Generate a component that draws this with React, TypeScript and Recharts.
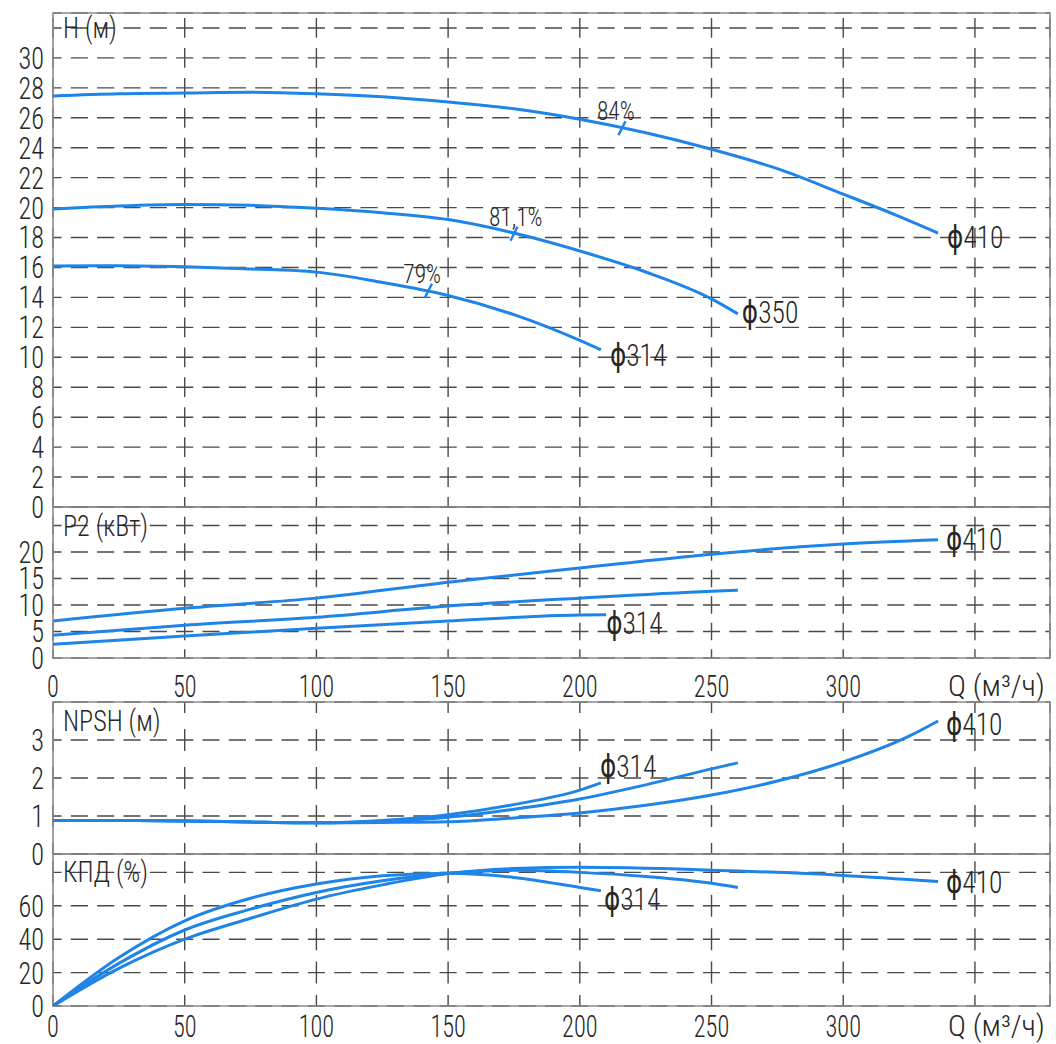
import React from 'react';
import { LineChart, Line, XAxis, YAxis, CartesianGrid, ReferenceArea, ReferenceDot, LabelList } from 'recharts';

// ---------------- data ----------------
const qTicks = [0, 50, 100, 150, 200, 250, 300, 350];
const qAxisTitle = 'Q (м³/ч)';
const Q_MAX = 378.5;

const headTicks = [0, 2, 4, 6, 8, 10, 12, 14, 16, 18, 20, 22, 24, 26, 28, 30, 32];
const powerTicks = [0, 5, 10, 15, 20, 25];
const npshTicks = [0, 1, 2, 3, 4];
const effTicks = [0, 20, 40, 60, 80];

const head410 = [
  { q: 0, v: 27.45 }, { q: 25, v: 27.6 }, { q: 50, v: 27.65 }, { q: 75, v: 27.7 }, { q: 100, v: 27.6 },
  { q: 125, v: 27.4 }, { q: 150, v: 27.05 }, { q: 175, v: 26.6 }, { q: 200, v: 25.9 }, { q: 225, v: 25.0 },
  { q: 250, v: 23.9 }, { q: 275, v: 22.6 }, { q: 300, v: 20.9 }, { q: 320, v: 19.5 }, { q: 336, v: 18.3 },
];
const head350 = [
  { q: 0, v: 19.9 }, { q: 25, v: 20.1 }, { q: 50, v: 20.2 }, { q: 75, v: 20.15 }, { q: 100, v: 19.95 },
  { q: 125, v: 19.65 }, { q: 150, v: 19.2 }, { q: 175, v: 18.3 }, { q: 200, v: 17.1 }, { q: 225, v: 15.7 },
  { q: 250, v: 13.9 }, { q: 260, v: 12.9 },
];
const head314 = [
  { q: 0, v: 16.1 }, { q: 25, v: 16.12 }, { q: 50, v: 16.05 }, { q: 75, v: 15.9 }, { q: 100, v: 15.69 },
  { q: 125, v: 15.0 }, { q: 150, v: 14.13 }, { q: 175, v: 12.85 }, { q: 200, v: 11.13 }, { q: 208, v: 10.5 },
];

const effMarks = [
  { q: 216, v: 25.3, text: '84%' },
  { q: 175, v: 18.25, text: '81,1%' },
  { q: 142.5, v: 14.45, text: '79%' },
];

const power410 = [
  { q: 0, v: 7.0 }, { q: 50, v: 9.4 }, { q: 100, v: 11.3 }, { q: 150, v: 14.3 }, { q: 200, v: 17.0 },
  { q: 250, v: 19.6 }, { q: 300, v: 21.5 }, { q: 336, v: 22.3 },
];
const power350 = [
  { q: 0, v: 4.3 }, { q: 50, v: 6.2 }, { q: 100, v: 7.7 }, { q: 150, v: 9.8 }, { q: 200, v: 11.3 },
  { q: 250, v: 12.6 }, { q: 260, v: 12.8 },
];
const power314 = [
  { q: 0, v: 2.6 }, { q: 50, v: 4.15 }, { q: 100, v: 5.6 }, { q: 150, v: 7.0 }, { q: 200, v: 8.1 },
  { q: 210, v: 8.15 },
];

const npsh410 = [
  { q: 0, v: 0.88 }, { q: 25, v: 0.88 }, { q: 50, v: 0.87 }, { q: 75, v: 0.84 }, { q: 100, v: 0.82 },
  { q: 125, v: 0.83 }, { q: 150, v: 0.85 }, { q: 175, v: 0.95 }, { q: 200, v: 1.08 }, { q: 225, v: 1.28 },
  { q: 250, v: 1.55 }, { q: 275, v: 1.92 }, { q: 300, v: 2.42 }, { q: 325, v: 3.1 }, { q: 336, v: 3.5 },
];
const npsh350 = [
  { q: 0, v: 0.88 }, { q: 25, v: 0.88 }, { q: 50, v: 0.87 }, { q: 75, v: 0.84 }, { q: 100, v: 0.82 },
  { q: 125, v: 0.86 }, { q: 150, v: 0.97 }, { q: 175, v: 1.18 }, { q: 200, v: 1.45 }, { q: 225, v: 1.82 },
  { q: 250, v: 2.24 }, { q: 260, v: 2.4 },
];
const npsh314 = [
  { q: 0, v: 0.88 }, { q: 25, v: 0.88 }, { q: 50, v: 0.87 }, { q: 75, v: 0.84 }, { q: 100, v: 0.82 },
  { q: 125, v: 0.88 }, { q: 150, v: 1.03 }, { q: 175, v: 1.3 }, { q: 200, v: 1.68 }, { q: 208, v: 1.87 },
];

const eff410 = [
  { q: 0, v: 0 }, { q: 25, v: 22.5 }, { q: 50, v: 40 }, { q: 75, v: 52.5 }, { q: 100, v: 64 },
  { q: 125, v: 72.5 }, { q: 150, v: 79.3 }, { q: 175, v: 82.3 }, { q: 200, v: 83 }, { q: 250, v: 81.3 },
  { q: 300, v: 78.2 }, { q: 336, v: 74.6 },
];
const eff350 = [
  { q: 0, v: 0 }, { q: 25, v: 25.5 }, { q: 50, v: 45.5 }, { q: 75, v: 58 }, { q: 100, v: 68 },
  { q: 125, v: 75 }, { q: 150, v: 79.5 }, { q: 175, v: 81.2 }, { q: 200, v: 80 }, { q: 225, v: 77.5 },
  { q: 250, v: 73.5 }, { q: 260, v: 71 },
];
const eff314 = [
  { q: 0, v: 0 }, { q: 25, v: 29 }, { q: 50, v: 51 }, { q: 75, v: 64.5 }, { q: 100, v: 73 },
  { q: 125, v: 78 }, { q: 150, v: 79.5 }, { q: 175, v: 77 }, { q: 200, v: 71 }, { q: 208, v: 69 },
];

// ---------------- styling ----------------
const FONT = '"Roboto Condensed", Roboto, "DejaVu Sans Condensed", sans-serif';
const BLUE = '#1f84e8';
const GRID = '#4a4a4a';
const FRAME = '#8c8c8c';
const TXT = '#262626';
const W = 1056;
const H_TOTAL = 1044;
const LEFT = 53;
const RIGHT_M = 6;
const PLOT_W = W - LEFT - RIGHT_M;

type TxtProps = { x: number; y: number; children: React.ReactNode; size: number; sx?: number; anchor?: 'start' | 'middle' | 'end' };
const Txt = ({ x, y, children, size, sx = 0.8, anchor = 'start' }: TxtProps) => (
  <text
    transform={`translate(${x},${y}) scale(${sx},1)`}
    fontFamily={FONT}
    fontSize={size}
    textAnchor={anchor}
    dominantBaseline="central"
    fill={TXT}
    fontWeight={300}
  >
    {children}
  </text>
);

type Series = { data: { q: number; v: number }[]; label?: string; dx?: number; dy?: number };

type PanelCfg = {
  top: number;
  bottom: number;
  max: number;
  ticks: number[];
  step: number;
  labelUpTo: number;
  title: string;
  titleLevel: number;
  series: Series[];
  xAxis: boolean;
  xLabelDy: number;
  xAxisH: number;
  marks?: { q: number; v: number; text: string }[];
};

function Panel({ cfg }: { cfg: PanelCfg }) {
  const plotH = cfg.bottom - cfg.top;
  const pxPerUnit = plotH / cfg.max;
  const vPeriod = cfg.step * pxPerUnit;
  const vDash = Math.min(vPeriod * 0.66, 22);
  const lastTick = Math.max(...cfg.ticks.filter((t) => t <= cfg.max));
  const firstGap = (cfg.max - lastTick) * pxPerUnit;
  const vOffset = vDash / 2 - firstGap;
  const hPeriod = (50 * PLOT_W) / Q_MAX / 5;
  const hDash = hPeriod * 0.65;
  const xH = cfg.xAxis ? cfg.xAxisH : 0;
  const bottomMargin = H_TOTAL - cfg.bottom - xH;

  const yTick = (p: any) => {
    const v = p.payload.value;
    if (v > cfg.labelUpTo) return <g />;
    return (
      <Txt x={LEFT - 9} y={p.y} size={32} sx={0.82} anchor="end">
        {String(v)}
      </Txt>
    );
  };
  const xTick = (p: any) => {
    const v = p.payload.value;
    if (v === 350) {
      return (
        <Txt x={p.x - 27} y={p.y + cfg.xLabelDy} size={29} sx={1.05}>
          {qAxisTitle}
        </Txt>
      );
    }
    return (
      <Txt x={p.x} y={p.y + cfg.xLabelDy} size={32} sx={0.76} anchor="middle">
        {String(v)}
      </Txt>
    );
  };

  return (
    <div style={{ position: 'absolute', left: 0, top: 0 }}>
      <LineChart width={W} height={H_TOTAL} margin={{ top: cfg.top, right: RIGHT_M, bottom: bottomMargin, left: 0 }}>
        <CartesianGrid
          vertical={false}
          stroke={GRID}
          strokeWidth={1.4}
          strokeDasharray={`${hDash} ${hPeriod - hDash}`}
          strokeDashoffset={hDash / 2}
        />
        <CartesianGrid
          horizontal={false}
          stroke={GRID}
          strokeWidth={1.4}
          strokeDasharray={`${vDash} ${vPeriod - vDash}`}
          strokeDashoffset={vOffset}
        />
        <XAxis
          type="number"
          dataKey="q"
          domain={[0, Q_MAX]}
          ticks={qTicks}
          interval={0}
          hide={!cfg.xAxis}
          height={xH}
          axisLine={false}
          tickLine={false}
          tickSize={0}
          tickMargin={0}
          tick={xTick}
          allowDataOverflow
        />
        <YAxis
          type="number"
          domain={[0, cfg.max]}
          ticks={cfg.ticks}
          interval={0}
          width={LEFT}
          axisLine={false}
          tickLine={false}
          tickSize={0}
          tickMargin={0}
          tick={yTick}
          allowDataOverflow
        />
        <ReferenceArea x1={0} x2={Q_MAX} y1={0} y2={cfg.max} fill="none" stroke={FRAME} strokeWidth={1.6} ifOverflow="visible" />
        {cfg.series.map((s, i) => (
          <Line
            key={i}
            data={s.data}
            dataKey="v"
            type="monotone"
            stroke={BLUE}
            strokeWidth={3}
            dot={false}
            activeDot={false}
            isAnimationActive={false}
          >
            {s.label ? (
              <LabelList
                dataKey="v"
                content={(p: any) =>
                  p.index === s.data.length - 1 ? (
                    <Txt x={p.x + (s.dx ?? 8)} y={p.y + (s.dy ?? 0)} size={32} sx={0.86}>
                      {s.label}
                    </Txt>
                  ) : (
                    <g />
                  )
                }
              />
            ) : null}
          </Line>
        ))}
        {(cfg.marks ?? []).map((m, i) => (
          <ReferenceDot
            key={'m' + i}
            x={m.q}
            y={m.v}
            r={0}
            ifOverflow="visible"
            shape={(p: any) => (
              <g>
                <line x1={p.cx - 3.5} y1={p.cy + 7} x2={p.cx + 3.5} y2={p.cy - 7} stroke={BLUE} strokeWidth={2.5} />
                <Txt x={p.cx - 25} y={p.cy - 17} size={26} sx={0.9}>
                  {m.text}
                </Txt>
              </g>
            )}
          />
        ))}
        <ReferenceDot
          x={0}
          y={cfg.titleLevel}
          r={0}
          ifOverflow="visible"
          shape={(p: any) => (
            <Txt x={p.cx + 10} y={p.cy} size={29} sx={0.9}>
              {cfg.title}
            </Txt>
          )}
        />
      </LineChart>
    </div>
  );
}

const panels: PanelCfg[] = [
  {
    top: 13, bottom: 507, max: 33, ticks: headTicks, step: 2, labelUpTo: 30,
    title: 'H (м)', titleLevel: 32, xAxis: false, xLabelDy: 0, xAxisH: 0,
    series: [
      { data: head410, label: 'ϕ410', dx: 9, dy: 4 },
      { data: head350, label: 'ϕ350', dx: 4, dy: -2 },
      { data: head314, label: 'ϕ314', dx: 9, dy: 5 },
    ],
    marks: effMarks,
  },
  {
    top: 507, bottom: 658, max: 28.5, ticks: powerTicks, step: 5, labelUpTo: 20,
    title: 'P2 (кВт)', titleLevel: 25, xAxis: true, xLabelDy: 28, xAxisH: 44,
    series: [
      { data: power410, label: 'ϕ410', dx: 8, dy: -1 },
      { data: power350 },
      { data: power314, label: 'ϕ314', dx: 0, dy: 8 },
    ],
  },
  {
    top: 702, bottom: 854, max: 4, ticks: npshTicks, step: 1, labelUpTo: 3,
    title: 'NPSH (м)', titleLevel: 3.5, xAxis: false, xLabelDy: 0, xAxisH: 0,
    series: [
      { data: npsh410, label: 'ϕ410', dx: 8, dy: 3 },
      { data: npsh350 },
      { data: npsh314, label: 'ϕ314', dx: -1, dy: -17 },
    ],
  },
  {
    top: 854, bottom: 1006, max: 91, ticks: effTicks, step: 20, labelUpTo: 60,
    title: 'КПД (%)', titleLevel: 80, xAxis: true, xLabelDy: 20, xAxisH: 38,
    series: [
      { data: eff410, label: 'ϕ410', dx: 8, dy: 0 },
      { data: eff350 },
      { data: eff314, label: 'ϕ314', dx: 3, dy: 8 },
    ],
  },
];

export default function App() {
  return (
    <div style={{ position: 'absolute', left: 0, top: 0, width: W, height: H_TOTAL, background: '#fff' }}>
      {panels.map((cfg, i) => (
        <Panel key={i} cfg={cfg} />
      ))}
    </div>
  );
}
